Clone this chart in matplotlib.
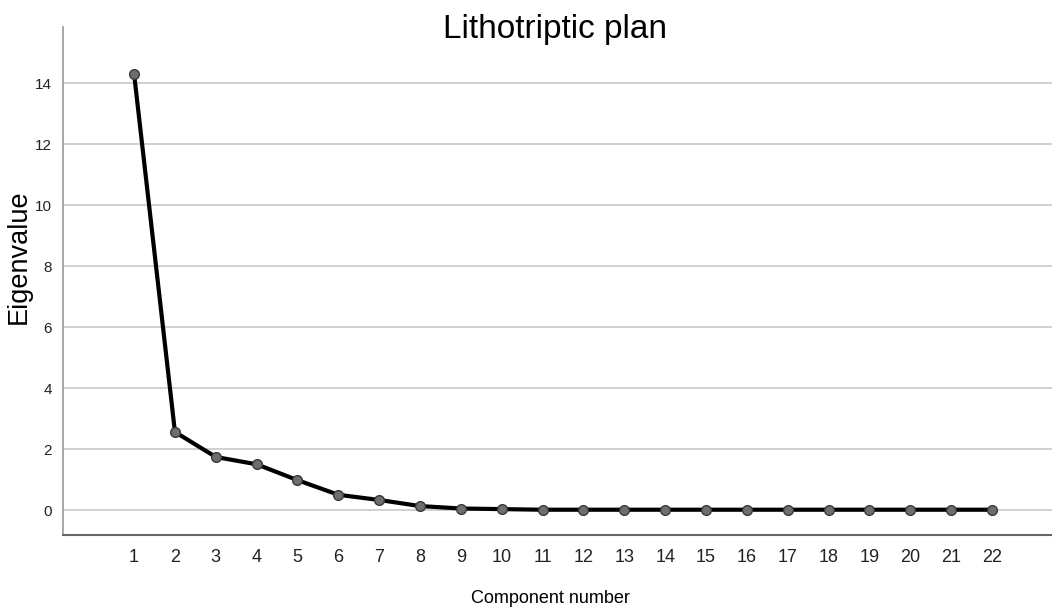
import numpy as np
import matplotlib.pyplot as plt

# scree plot values
components = list(range(1, 23))
eigenvalues = [14.3, 2.56, 1.74, 1.5, 0.98, 0.5, 0.33, 0.13, 0.05, 0.03,
               0.01, 0.01, 0.01, 0.01, 0.01, 0.01, 0.01, 0.01, 0.01, 0.01, 0.01, 0.01]
yticks = [0, 2, 4, 6, 8, 10, 12, 14]

plt.rcParams['font.family'] = ['Liberation Sans', 'DejaVu Sans']

fig = plt.figure(figsize=(10.52, 6.08), dpi=100)
ax = fig.add_axes([0.0599, 0.12, 0.9401, 0.8356])

ax.plot(components, eigenvalues, color='black', linewidth=3, marker='o',
        markersize=7, markerfacecolor='#6e6e6e', markeredgecolor='#3a3a3a',
        markeredgewidth=1, zorder=3)

ax.set_xlim(-0.74, 23.47)
ax.set_ylim(-0.82, 15.84)
ax.set_xticks(components)
ax.set_yticks(yticks)
ax.tick_params(axis='x', length=0, labelsize=13, pad=10, colors='#222222')
ax.tick_params(axis='y', length=0, labelsize=11, pad=8, colors='#222222')
ax.grid(axis='y', color='#c8c8c8', linewidth=1.2)
ax.set_axisbelow(True)

for s in ['top', 'right']:
    ax.spines[s].set_visible(False)
ax.spines['left'].set_color('#9a9a9a')
ax.spines['left'].set_linewidth(1.2)
ax.spines['bottom'].set_color('#666666')
ax.spines['bottom'].set_linewidth(1.5)

fig.text(0.528, 0.952, 'Lithotriptic plan', ha='center', va='center', fontsize=24)
fig.text(0.018, 0.577, 'Eigenvalue', ha='center', va='center', rotation=90, fontsize=19.5)
fig.text(0.523, 0.016, 'Component number', ha='center', va='center', fontsize=13)

fig.savefig('out.png', dpi=100)
